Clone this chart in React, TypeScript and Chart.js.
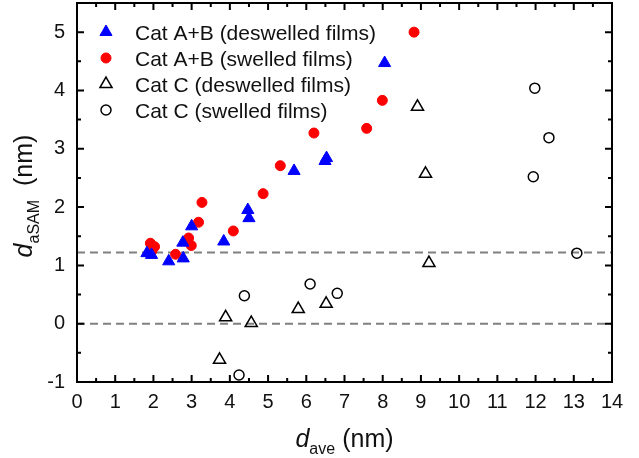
import { useEffect, useRef } from 'react';
import { Chart, registerables } from 'chart.js';

Chart.register(...registerables);

const FONT = "'Liberation Sans', Arial, sans-serif";

// Cat A+B (deswelled films)
const abDeswelledX = [1.83, 1.95, 2.40, 2.78, 2.77, 3.00, 3.84, 4.47, 4.50, 5.68, 6.49, 6.53, 8.05];
const abDeswelledY = [1.21, 1.18, 1.07, 1.12, 1.39, 1.67, 1.41, 1.95, 1.81, 2.62, 2.79, 2.84, 4.47];

// Cat A+B (swelled films)
const abSwelledX = [1.92, 2.03, 1.96, 2.58, 2.92, 2.99, 3.18, 3.27, 4.09, 4.87, 5.32, 6.20, 7.58, 7.99, 8.82];
const abSwelledY = [1.38, 1.32, 1.25, 1.19, 1.47, 1.34, 1.74, 2.08, 1.59, 2.23, 2.71, 3.27, 3.35, 3.83, 5.00];

// Cat C (deswelled films)
const cDeswelledX = [3.73, 3.89, 4.56, 5.79, 6.52, 8.91, 9.12, 9.21];
const cDeswelledY = [-0.62, 0.11, 0.01, 0.25, 0.34, 3.72, 2.57, 1.04];

// Cat C (swelled films)
const cSwelledX = [4.24, 4.38, 6.10, 6.81, 11.94, 11.98, 12.35, 13.08];
const cSwelledY = [-0.88, 0.48, 0.68, 0.52, 2.52, 4.04, 3.19, 1.21];

const SERIES_LABELS = [
  'Cat A+B (deswelled films)',
  'Cat A+B (swelled films)',
  'Cat C (deswelled films)',
  'Cat C (swelled films)',
];

const X_TICKS = [0, 1, 2, 3, 4, 5, 6, 7, 8, 9, 10, 11, 12, 13, 14];
const Y_TICKS = [-1, 0, 1, 2, 3, 4, 5];
const X_MIN = 0;
const X_MAX = 14;
const Y_MIN = -1;
const Y_MAX = 5.5;
const REF_LINES = [0, 1.22];

const X_TITLE = { main: 'd', sub: 'ave', unit: '(nm)' };
const Y_TITLE = { main: 'd', sub: 'aSAM', unit: '(nm)' };

const zip = (xs: number[], ys: number[]) => xs.map((x, i) => ({ x, y: ys[i] }));

function drawMarker(ctx: CanvasRenderingContext2D, ds: any, x: number, y: number) {
  const style = ds.pointStyle;
  const r = ds.pointRadius;
  ctx.save();
  ctx.beginPath();
  if (style === 'triangle') {
    let rad = 0;
    ctx.moveTo(x + Math.sin(rad) * r, y - Math.cos(rad) * r);
    rad += (2 * Math.PI) / 3;
    ctx.lineTo(x + Math.sin(rad) * r, y - Math.cos(rad) * r);
    rad += (2 * Math.PI) / 3;
    ctx.lineTo(x + Math.sin(rad) * r, y - Math.cos(rad) * r);
    ctx.closePath();
  } else {
    ctx.arc(x, y, r, 0, Math.PI * 2);
  }
  if (ds.pointBackgroundColor && ds.pointBackgroundColor !== 'transparent') {
    ctx.fillStyle = ds.pointBackgroundColor;
    ctx.fill();
  }
  ctx.lineWidth = ds.pointBorderWidth;
  ctx.strokeStyle = ds.pointBorderColor;
  ctx.stroke();
  ctx.restore();
}

function drawTitle(
  ctx: CanvasRenderingContext2D,
  t: { main: string; sub: string; unit: string },
  gap: number
) {
  ctx.font = `italic 25px ${FONT}`;
  const wMain = ctx.measureText(t.main).width;
  ctx.font = `16px ${FONT}`;
  const wSub = ctx.measureText(t.sub).width;
  ctx.font = `25px ${FONT}`;
  const wUnit = ctx.measureText(t.unit).width;
  const total = wMain + wSub + gap + wUnit;
  let x = -total / 2;
  ctx.fillStyle = '#111';
  ctx.textBaseline = 'alphabetic';
  ctx.textAlign = 'left';
  ctx.font = `italic 25px ${FONT}`;
  ctx.fillText(t.main, x, 0);
  x += wMain;
  ctx.font = `16px ${FONT}`;
  ctx.fillText(t.sub, x, 7);
  x += wSub + gap;
  ctx.font = `25px ${FONT}`;
  ctx.fillText(t.unit, x, 0);
}

const decorPlugin = {
  id: 'decor',
  beforeDatasetsDraw(chart: any) {
    const { ctx, chartArea, scales } = chart;
    ctx.save();
    ctx.strokeStyle = '#808080';
    ctx.lineWidth = 2;
    ctx.setLineDash([8, 5]);
    REF_LINES.forEach((v) => {
      const y = scales.y.getPixelForValue(v);
      ctx.beginPath();
      ctx.moveTo(chartArea.left, y);
      ctx.lineTo(chartArea.right, y);
      ctx.stroke();
    });
    ctx.restore();
  },
  afterDatasetsDraw(chart: any) {
    const { ctx, chartArea, scales } = chart;
    const { left, right, top, bottom } = chartArea;
    ctx.save();
    ctx.strokeStyle = '#000';
    ctx.lineWidth = 2;
    ctx.setLineDash([]);
    // frame
    ctx.strokeRect(left, top, right - left, bottom - top);
    // ticks (inward) on all four sides
    const MAJOR = 7;
    const MINOR = 4;
    ctx.beginPath();
    X_TICKS.forEach((v, i) => {
      const px = scales.x.getPixelForValue(v);
      if (v !== X_MIN && v !== X_MAX) {
        ctx.moveTo(px, bottom);
        ctx.lineTo(px, bottom - MAJOR);
        ctx.moveTo(px, top);
        ctx.lineTo(px, top + MAJOR);
      }
      if (i < X_TICKS.length - 1) {
        const m = scales.x.getPixelForValue((v + X_TICKS[i + 1]) / 2);
        ctx.moveTo(m, bottom);
        ctx.lineTo(m, bottom - MINOR);
        ctx.moveTo(m, top);
        ctx.lineTo(m, top + MINOR);
      }
    });
    Y_TICKS.forEach((v, i) => {
      const py = scales.y.getPixelForValue(v);
      if (v !== Y_MIN && v !== Y_MAX) {
        ctx.moveTo(left, py);
        ctx.lineTo(left + MAJOR, py);
        ctx.moveTo(right, py);
        ctx.lineTo(right - MAJOR, py);
      }
      const next = i < Y_TICKS.length - 1 ? Y_TICKS[i + 1] : v + 1;
      const mv = (v + next) / 2;
      if (mv < Y_MAX) {
        const m = scales.y.getPixelForValue(mv);
        ctx.moveTo(left, m);
        ctx.lineTo(left + MINOR, m);
        ctx.moveTo(right, m);
        ctx.lineTo(right - MINOR, m);
      }
    });
    ctx.stroke();

    // legend
    const datasets = chart.data.datasets;
    datasets.forEach((ds: any, i: number) => {
      const cy = 32 + i * 26;
      drawMarker(ctx, ds, 106, cy);
      ctx.font = `21px ${FONT}`;
      ctx.fillStyle = '#111';
      ctx.textAlign = 'left';
      ctx.textBaseline = 'alphabetic';
      ctx.fillText(ds.label, 135, cy + 7.5);
    });

    // axis titles
    ctx.save();
    ctx.translate((left + right) / 2, 447);
    drawTitle(ctx, X_TITLE, 7);
    ctx.restore();

    ctx.save();
    ctx.translate(32, 196);
    ctx.rotate(-Math.PI / 2);
    drawTitle(ctx, Y_TITLE, 14);
    ctx.restore();

    ctx.restore();
  },
};

export default function App() {
  const ref = useRef<HTMLCanvasElement | null>(null);

  useEffect(() => {
    if (!ref.current) return;
    const chart = new Chart(ref.current, {
      type: 'scatter',
      data: {
        datasets: [
          {
            label: SERIES_LABELS[0],
            data: zip(abDeswelledX, abDeswelledY),
            pointStyle: 'triangle',
            pointRadius: 7,
            pointBackgroundColor: '#0000ff',
            pointBorderColor: '#0000ff',
            pointBorderWidth: 1,
          },
          {
            label: SERIES_LABELS[1],
            data: zip(abSwelledX, abSwelledY),
            pointStyle: 'circle',
            pointRadius: 5,
            pointBackgroundColor: '#ff0000',
            pointBorderColor: '#ff0000',
            pointBorderWidth: 1,
          },
          {
            label: SERIES_LABELS[2],
            data: zip(cDeswelledX, cDeswelledY),
            pointStyle: 'triangle',
            pointRadius: 7,
            pointBackgroundColor: 'transparent',
            pointBorderColor: '#000',
            pointBorderWidth: 1.5,
          },
          {
            label: SERIES_LABELS[3],
            data: zip(cSwelledX, cSwelledY),
            pointStyle: 'circle',
            pointRadius: 5,
            pointBackgroundColor: 'transparent',
            pointBorderColor: '#000',
            pointBorderWidth: 1.5,
          },
        ] as any,
      },
      options: {
        animation: false,
        responsive: false,
        maintainAspectRatio: false,
        layout: { autoPadding: false, padding: { left: 0, top: 3, right: 27, bottom: 0 } },
        plugins: {
          legend: { display: false },
          tooltip: { enabled: false },
        },
        scales: {
          x: {
            type: 'linear',
            min: X_MIN,
            max: X_MAX,
            grid: { display: false, drawTicks: false },
            border: { display: false },
            afterBuildTicks: (s: any) => {
              s.ticks = X_TICKS.map((v) => ({ value: v }));
            },
            afterFit: (s: any) => {
              s.height = 76;
              s.paddingLeft = 0;
              s.paddingRight = 0;
            },
            ticks: {
              color: '#111',
              font: { family: FONT, size: 20 },
              padding: 8,
              maxRotation: 0,
              autoSkip: false,
              callback: (v: any) => String(v),
            },
          },
          y: {
            type: 'linear',
            min: Y_MIN,
            max: Y_MAX,
            grid: { display: false, drawTicks: false },
            border: { display: false },
            afterBuildTicks: (s: any) => {
              s.ticks = Y_TICKS.map((v) => ({ value: v }));
            },
            afterFit: (s: any) => {
              s.width = 77;
              s.paddingTop = 0;
              s.paddingBottom = 0;
            },
            ticks: {
              color: '#111',
              font: { family: FONT, size: 20 },
              padding: 12,
              autoSkip: false,
              callback: (v: any) => String(v),
            },
          },
        },
      },
      plugins: [decorPlugin],
    });
    return () => chart.destroy();
  }, []);

  return (
    <div style={{ position: 'absolute', left: 0, top: 0, width: 639, height: 458, background: '#fff' }}>
      <canvas ref={ref} width={639} height={458} style={{ display: 'block' }} />
    </div>
  );
}
